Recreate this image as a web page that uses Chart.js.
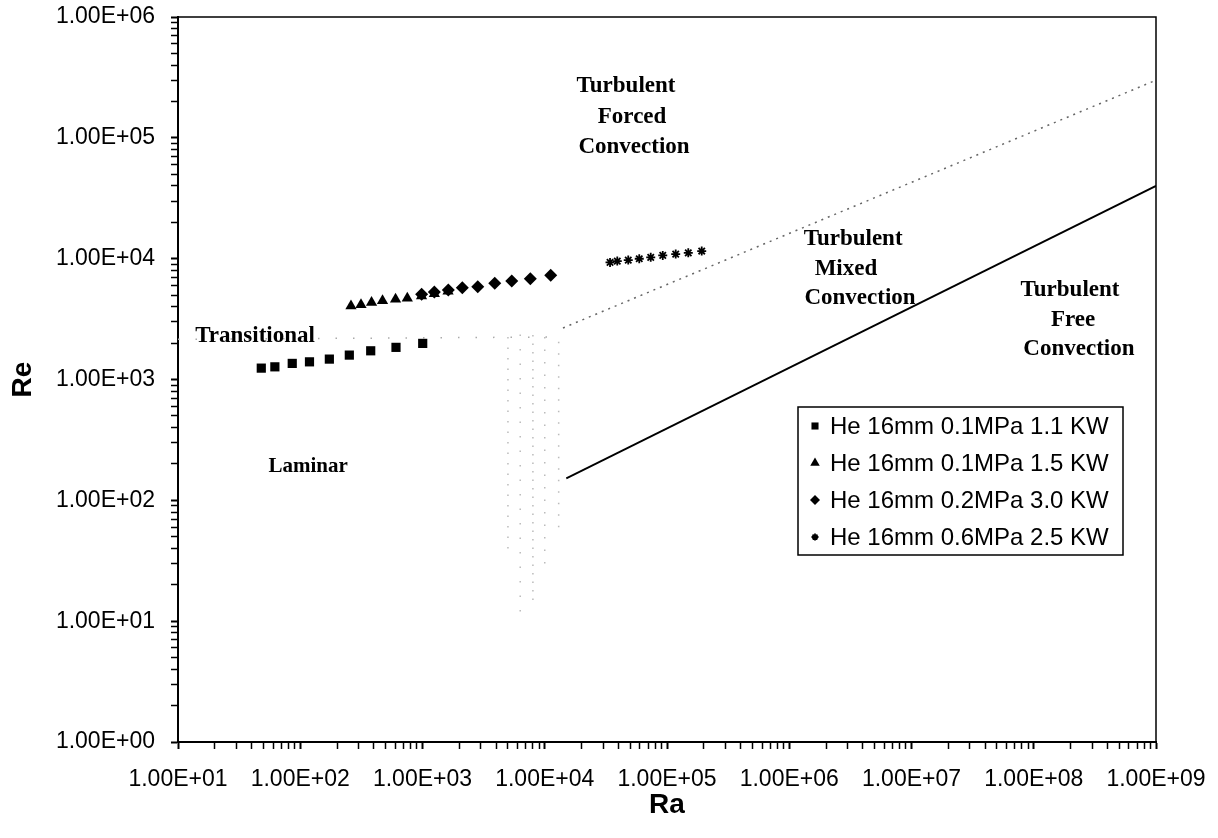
<!DOCTYPE html>
<html><head><meta charset="utf-8">
<script src="https://cdn.jsdelivr.net/npm/chart.js@4.4.1/dist/chart.umd.min.js"></script>
<style>html,body{margin:0;padding:0;background:#fff;}</style>
</head><body>
<canvas id="c" width="1218" height="838"></canvas>
<script>
// ---------- data ----------
const seriesNames = ['He 16mm 0.1MPa 1.1 KW', 'He 16mm 0.1MPa 1.5 KW', 'He 16mm 0.2MPa 3.0 KW', 'He 16mm 0.6MPa 2.5 KW'];
const raA = [48, 62, 86, 119, 173, 252, 377, 607, 1004];
const reA = [1242, 1273, 1359, 1400, 1475, 1592, 1728, 1845, 1990];
const raB = [260, 314, 383, 471, 602, 751, 982, 1250, 1618];
const reB = [4055, 4155, 4335, 4480, 4605, 4700, 4920, 5130, 5370];
const raC = [984, 1250, 1627, 2117, 2831, 3900, 5370, 7620, 11190];
const reC = [5070, 5300, 5500, 5750, 5860, 6250, 6530, 6820, 7280];
const raD = [34200, 39200, 48200, 59300, 73600, 92300, 117800, 149300, 192300];
const reD = [9310, 9550, 9730, 9980, 10250, 10640, 10910, 11170, 11560];

const mixedBoundaryRa = [14100, 1e9];
const mixedBoundaryRe = [2670, 300000];
const freeBoundaryRa = [15000, 1e9];
const freeBoundaryRe = [152, 40000];
const transitionalRa = [10, 14000];
const transitionalRe = [2150, 2250];
const speckleRa = [5000, 6300, 8000, 10000, 13000];
const speckleReLow = [40, 12, 15, 30, 60];
const speckleReHigh = [2600, 2700, 2500, 2700, 2400];

const xDecades = [1e1, 1e2, 1e3, 1e4, 1e5, 1e6, 1e7, 1e8, 1e9];
const xTickLabels = ['1.00E+01','1.00E+02','1.00E+03','1.00E+04','1.00E+05','1.00E+06','1.00E+07','1.00E+08','1.00E+09'];
const yDecades = [1e0, 1e1, 1e2, 1e3, 1e4, 1e5, 1e6];
const yTickLabels = ['1.00E+00','1.00E+01','1.00E+02','1.00E+03','1.00E+04','1.00E+05','1.00E+06'];

const regionLabels = ['Turbulent','Forced','Convection','Turbulent','Mixed','Convection','Turbulent','Free','Convection','Transitional','Laminar'];
const regionLabelRa = [46200, 51800, 53700, 3.33e6, 2.91e6, 3.79e6, 1.98e8, 2.1e8, 2.34e8, 42.7, 116];
const regionLabelRe = [268500, 148600, 83900, 14500, 8200, 4720, 5500, 3100, 1790, 2290, 192];

// ---------- build ----------
const pts = (xs, ys) => xs.map((x, i) => ({x, y: ys[i]}));
const markerStyles = [
  {pointStyle: 'rect', pointRadius: 6.5, pointBorderWidth: 0, legendRadius: 5},
  {pointStyle: 'triangle', pointRadius: 6.5, pointBorderWidth: 0, legendRadius: 5.5},
  {pointStyle: 'rectRot', pointRadius: 6.5, pointBorderWidth: 0, legendRadius: 5},
  {pointStyle: 'star', pointRadius: 4.5, pointBorderWidth: 1.8, legendRadius: 3.5}
];
const seriesData = [pts(raA, reA), pts(raB, reB), pts(raC, reC), pts(raD, reD)];
const datasets = seriesData.map((d, i) => ({
  label: seriesNames[i], data: d, showLine: false,
  backgroundColor: '#000', borderColor: '#000', pointBackgroundColor: '#000', pointBorderColor: '#000', order: 1,
  pointStyle: markerStyles[i].pointStyle, pointRadius: markerStyles[i].pointRadius, pointBorderWidth: markerStyles[i].pointBorderWidth
}));

datasets.push({label: 'mixed', data: pts(mixedBoundaryRa, mixedBoundaryRe), showLine: true, pointRadius: 0,
  borderColor: '#666', borderWidth: 1.5, borderDash: [2, 5], order: 5});
datasets.push({label: 'free', data: pts(freeBoundaryRa, freeBoundaryRe), showLine: true, pointRadius: 0,
  borderColor: '#000', borderWidth: 1.8, order: 5});
datasets.push({label: 'trans', data: pts(transitionalRa, transitionalRe), showLine: true, pointRadius: 0,
  borderColor: '#aaa', borderWidth: 1.5, borderDash: [1.5, 16], order: 6});
const dashPatterns = [[1.5, 9], [1.5, 13], [1.5, 7], [1.5, 11], [1.5, 10]];
speckleRa.forEach((ra, i) => {
  datasets.push({label: 'sp' + i, data: [{x: ra, y: speckleReLow[i]}, {x: ra, y: speckleReHigh[i]}], showLine: true,
    pointRadius: 0, borderColor: 'rgba(120,120,120,0.5)', borderWidth: 1.5, borderDash: dashPatterns[i], order: 7});
});

function decadeTicks(minExp, maxExp) {
  const t = [];
  for (let e = minExp; e < maxExp; e++) for (let m = 1; m <= 9; m++) t.push({value: m * Math.pow(10, e)});
  t.push({value: Math.pow(10, maxExp)});
  return t;
}
function labelFor(v, decs, labels) {
  for (let i = 0; i < decs.length; i++) if (Math.abs(v - decs[i]) / decs[i] < 1e-9) return labels[i];
  return '';
}
const isDecade = v => Math.abs(Math.log10(v) - Math.round(Math.log10(v))) < 1e-9;

const frame = {
  id: 'frame',
  afterDatasetsDraw(chart) {
    const {ctx, chartArea: a} = chart;
    ctx.save(); ctx.strokeStyle = '#000'; ctx.lineWidth = 1.5;
    ctx.beginPath(); ctx.moveTo(a.left, a.top); ctx.lineTo(a.right, a.top); ctx.lineTo(a.right, a.bottom); ctx.stroke();
    ctx.restore();
  }
};
const regionText = {
  id: 'regionText',
  afterDatasetsDraw(chart) {
    const {ctx, scales: {x, y}} = chart;
    ctx.save(); ctx.fillStyle = '#000'; ctx.textAlign = 'center'; ctx.textBaseline = 'middle';
    regionLabels.forEach((t, i) => {
      ctx.font = (t === 'Laminar' ? 'bold 21px' : 'bold 23px') + ' "Liberation Serif", "Times New Roman", serif';
      ctx.fillText(t, x.getPixelForValue(regionLabelRa[i]), y.getPixelForValue(regionLabelRe[i]));
    });
    ctx.restore();
  }
};
const boxLegend = {
  id: 'boxLegend',
  afterDraw(chart, args, opts) {
    const ctx = chart.ctx;
    ctx.save();
    ctx.fillStyle = '#fff'; ctx.fillRect(opts.left, opts.top, opts.width, opts.height);
    ctx.strokeStyle = '#000'; ctx.lineWidth = 1.5; ctx.strokeRect(opts.left, opts.top, opts.width, opts.height);
    ctx.font = '24px "Liberation Sans", Arial, sans-serif'; ctx.textBaseline = 'middle'; ctx.textAlign = 'left';
    seriesNames.forEach((name, i) => {
      const yy = opts.top + opts.firstRow + i * opts.rowGap;
      const ms = markerStyles[i];
      ctx.fillStyle = '#000'; ctx.strokeStyle = '#000'; ctx.lineWidth = ms.pointBorderWidth || 1;
      Chart.helpers.drawPoint(ctx, {pointStyle: ms.pointStyle, radius: ms.legendRadius, rotation: 0, borderWidth: ms.pointBorderWidth}, opts.left + opts.markerX, yy);
      ctx.fillStyle = '#000';
      ctx.fillText(name, opts.left + opts.textX, yy + 1);
    });
    ctx.restore();
  }
};

const tickFont = {family: '"Liberation Sans", Arial, sans-serif', size: 23};
new Chart(document.getElementById('c'), {
  type: 'scatter',
  data: {datasets},
  plugins: [frame, regionText, boxLegend],
  options: {
    responsive: false, animation: false, devicePixelRatio: 1,
    layout: {padding: {left: 0, top: 17, right: 62, bottom: 0}},
    plugins: {
      legend: {display: false}, tooltip: {enabled: false},
      boxLegend: {left: 798, top: 407, width: 325, height: 148, firstRow: 19, rowGap: 37, markerX: 17, textX: 32}
    },
    scales: {
      x: {
        type: 'logarithmic', min: 10, max: 1e9,
        afterBuildTicks: s => { s.ticks = decadeTicks(1, 9); },
        afterFit: s => { s.height = 96; s.paddingLeft = 0; s.paddingRight = 0; },
        border: {display: true, color: '#000', width: 2},
        grid: {drawOnChartArea: false, drawTicks: true, tickLength: 7, tickColor: '#000',
               tickWidth: c => (c.tick && isDecade(c.tick.value)) ? 2 : 1.5},
        ticks: {autoSkip: false, maxRotation: 0, minRotation: 0, padding: 17, color: '#000', font: tickFont,
                callback: v => labelFor(v, xDecades, xTickLabels)},
        title: {display: true, text: 'Ra', color: '#000', padding: {top: 0, bottom: 16},
                font: {family: '"Liberation Sans", Arial, sans-serif', size: 28, weight: 'bold'}}
      },
      y: {
        type: 'logarithmic', min: 1, max: 1e6,
        afterBuildTicks: s => { s.ticks = decadeTicks(0, 6); },
        afterFit: s => { s.width = 178; s.paddingTop = 0; s.paddingBottom = 0; },
        border: {display: true, color: '#000', width: 2},
        grid: {drawOnChartArea: false, drawTicks: true, tickLength: 7, tickColor: '#000',
               tickWidth: c => (c.tick && isDecade(c.tick.value)) ? 2 : 1.5},
        ticks: {autoSkip: false, padding: 16, color: '#000', font: tickFont,
                callback: v => labelFor(v, yDecades, yTickLabels)},
        title: {display: true, text: 'Re', color: '#000', padding: {top: 6, bottom: 0},
                font: {family: '"Liberation Sans", Arial, sans-serif', size: 28, weight: 'bold'}}
      }
    }
  }
});
</script>
</body></html>
